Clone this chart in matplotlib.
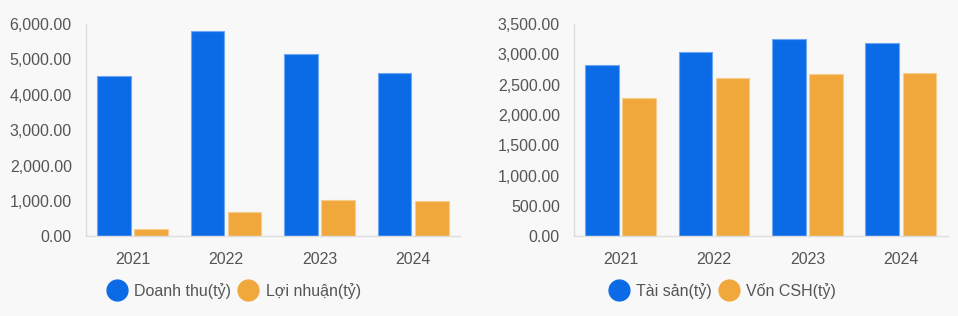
import numpy as np
import matplotlib.pyplot as plt
from matplotlib.lines import Line2D

# Dữ liệu
years = ['2021', '2022', '2023', '2024']
doanh_thu = [4530, 5794, 5143, 4607]
loi_nhuan = [206, 687, 1035, 989]
tai_san = [2829, 3033, 3248, 3187]
von_csh = [2285, 2610, 2681, 2692]

blue = '#0B6BE6'
orange = '#F0A83C'
bg = '#F8F8F8'
text_color = '#555555'

plt.rcParams['font.family'] = ['Liberation Sans', 'DejaVu Sans']

fig = plt.figure(figsize=(9.58, 3.16), dpi=100, facecolor=bg)
ax1 = fig.add_axes([0.0895, 0.252, 0.3905, 0.672])
ax2 = fig.add_axes([0.5989, 0.252, 0.3903, 0.672])

def draw(ax, s1, s2, ymax, step, labels, cx):
    x = np.arange(len(years))
    w = 0.36
    off = 0.199
    ax.bar(x - off, s1, w, color=blue, edgecolor='#6fa6f0', linewidth=0.8)
    ax.bar(x + off, s2, w, color=orange, edgecolor='#f6cd8f', linewidth=0.8)
    ax.set_facecolor(bg)
    ax.set_xlim(-0.5, len(years) - 0.5)
    ax.set_ylim(0, ymax)
    ticks = np.arange(0, ymax + 1, step)
    ax.set_yticks(ticks)
    ax.set_yticklabels([f'{t:,.2f}' for t in ticks])
    ax.set_xticks(x)
    ax.set_xticklabels(years)
    ax.tick_params(axis='both', length=0, labelsize=11.5, labelcolor=text_color)
    ax.tick_params(axis='y', pad=10)
    ax.tick_params(axis='x', pad=11)
    for s in ['top', 'right']:
        ax.spines[s].set_visible(False)
    for s in ['left', 'bottom']:
        ax.spines[s].set_color('#dddddd')
        ax.spines[s].set_linewidth(1)
    handles = [Line2D([], [], marker='o', linestyle='', markersize=15, color=blue),
               Line2D([], [], marker='o', linestyle='', markersize=15, color=orange)]
    fig.legend(handles, labels, loc='center', bbox_to_anchor=(cx, 0.079), ncol=2,
               frameon=False, fontsize=11.5, labelcolor=text_color,
               handletextpad=0.35, columnspacing=0.3, handlelength=1.5)

draw(ax1, doanh_thu, loi_nhuan, 6000, 1000, ['Doanh thu(tỷ)', 'Lợi nhuận(tỷ)'], 0.243)
draw(ax2, tai_san, von_csh, 3500, 500, ['Tài sản(tỷ)', 'Vốn CSH(tỷ)'], 0.753)

fig.savefig('out.png', dpi=100, facecolor=bg)
